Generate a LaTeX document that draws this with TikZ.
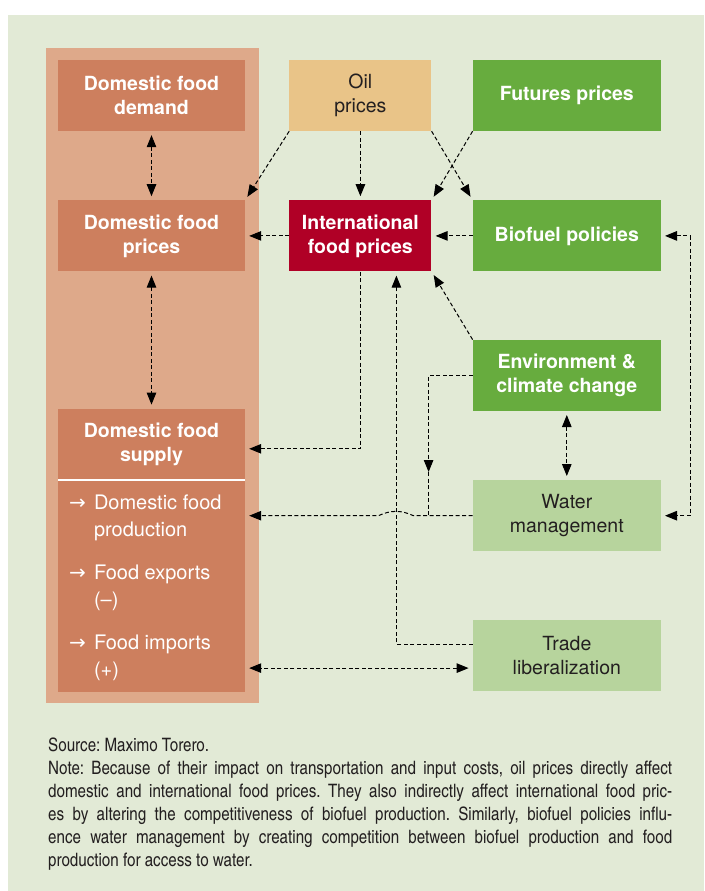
\documentclass[tikz,border=0pt]{standalone}
\usepackage{fontspec}
\setmainfont{TeX Gyre Heros}
\newfontfamily\condfont{TeX Gyre Heros Cn}
\newfontfamily\symfont{DejaVu Sans}
\usetikzlibrary{positioning,arrows.meta,backgrounds}
\frenchspacing

\definecolor{bgcol}{RGB}{226,234,214}
\definecolor{panelcol}{RGB}{222,169,138}
\definecolor{salmon}{RGB}{205,127,94}
\definecolor{oilcol}{RGB}{233,196,136}
\definecolor{grn}{RGB}{103,172,62}
\definecolor{lgrn}{RGB}{183,212,157}
\definecolor{crim}{RGB}{176,0,38}
\definecolor{ink}{RGB}{35,31,32}

\newcommand{\boxfont}{\fontsize{19.5}{24}\selectfont}
\newcommand{\itemfont}{\fontsize{20}{27}\selectfont}
\newcommand{\notefont}{\condfont\fontsize{18.5}{23}\selectfont}
\newcommand{\itarr}{\makebox[25pt][l]{{\symfont\fontsize{20}{20}\selectfont →}}}

\begin{document}
\begin{tikzpicture}[x=1pt, y=1pt, node distance=69pt and 44pt,
  basebox/.style={minimum width=187pt, minimum height=71pt, inner sep=0pt, align=center, font=\boxfont},
  darkbox/.style={basebox, fill=salmon, text=white, font=\boxfont\bfseries},
  greenbox/.style={basebox, minimum width=188pt, fill=grn, text=white, font=\boxfont\bfseries},
  lightbox/.style={basebox, minimum width=188pt, fill=lgrn, text=ink},
  oilbox/.style={basebox, minimum width=142pt, fill=oilcol, text=ink},
  redbox/.style={basebox, minimum width=142pt, fill=crim, text=white, font=\boxfont\bfseries},
  itemtext/.style={anchor=north west, inner sep=0pt, align=left, text=white, font=\itemfont},
  dline/.style={draw=black, line width=1pt, dash pattern=on 4pt off 2.5pt},
  arr/.style={-{Triangle[length=12pt,width=9.5pt]}, shorten >=4pt},
  arrs/.style={{Triangle[length=12pt,width=9.5pt]}-{Triangle[length=12pt,width=9.5pt]}, shorten >=4pt, shorten <=4pt}]
\useasboundingbox (0,0) rectangle (704,-891);

% left column
\node[darkbox] (demand) at (151.5,-95.5) {Domestic food\\demand};
\node[darkbox, below=of demand] (dprices) {Domestic food\\prices};
\node[darkbox, below=137pt of dprices] (supply) {Domestic food\\supply};
\node[darkbox, minimum height=212pt, below=0pt of supply] (suplist) {};
\node[itemtext] (prod) at ([shift={(11pt,-15pt)}]suplist.north west) {\itarr Domestic food\\\hspace*{25pt}production};
\node[itemtext] (exports) at ([shift={(11pt,-85pt)}]suplist.north west) {\itarr Food exports\\\hspace*{25pt}(--)};
\node[itemtext] (imports) at ([shift={(11pt,-155pt)}]suplist.north west) {\itarr Food imports\\\hspace*{25pt}(+)};

% middle and right
\node[oilbox, right=of demand] (oil) {Oil\\prices};
\node[greenbox, right=41pt of oil] (futures) {Futures prices};
\node[redbox, below=of oil] (intl) {International\\food prices};
\node[greenbox, below=of futures] (biofuel) {Biofuel policies};
\node[greenbox, below=68pt of biofuel] (env) {Environment \&\\climate change};
\node[lightbox, below=of env] (water) {Water\\management};
\node[lightbox, below=68pt of water] (trade) {Trade\\liberalization};

% note
\node[anchor=north west, inner sep=0pt, text width=624pt, align=justify, text=ink, font=\notefont] (note) at (48,-738) {Source: Maximo Torero.\\
Note: Because of their impact on transportation and input costs, oil prices directly affect\linebreak
domestic and international food prices. They also indirectly affect international food pric-\linebreak
es by altering the competitiveness of biofuel production. Similarly, biofuel policies influ-\linebreak
ence water management by creating competition between biofuel production and food\linebreak
production for access to water.};

\begin{scope}[on background layer]
\fill[bgcol] (8,-15) rectangle (704,-891);
\fill[panelcol] ([shift={(-12pt,12pt)}]demand.north west) rectangle ([shift={(14pt,-11pt)}]suplist.south east);
\end{scope}
\draw[white, line width=1.2pt] (supply.south west) -- (supply.south east);

\coordinate (tradeup) at ([xshift=36pt]intl.south);
\coordinate (envdrop) at ([xshift=-44pt,yshift=8pt]water.north west);
\coordinate (envjoin) at (envdrop |- water.west);
\coordinate (hopR) at ([xshift=17pt]tradeup |- water.west);
\coordinate (hopL) at ([xshift=-18pt]tradeup |- water.west);

% connectors
\draw[dline, arrs] (demand) -- (dprices);
\draw[dline, arrs] (dprices) -- (supply);
\draw[dline, arr] (oil.south west) -- (dprices.north east);
\draw[dline, arr] (oil) -- (intl);
\draw[dline, arr] (oil.south east) -- (biofuel.north west);
\draw[dline, arr] (futures.south west) -- (intl.north east);
\draw[dline, arr] (intl) -- (dprices);
\draw[dline, arr] (biofuel) -- (intl);
\draw[dline, arrs] (biofuel.east) -- ++(29pt,0) |- (water.east);
\draw[dline, arr] (intl.south) |- ([yshift=-4.5pt]supply.east);
\draw[dline, arr] ([yshift=11pt]trade.west) -| (tradeup);
\draw[dline, arr] (env.north west) -- (intl.south east);
\draw[dline, arrs] (env) -- (water);
\draw[dline, -{Triangle[length=12pt,width=9.5pt]}] (env.west) -| (envdrop);
\draw[dline] (envdrop) -- (envjoin);
\draw[dline, arr] (water.west) -- (hopR) to[out=155,in=25] (hopL) -- (suplist.east |- water.west);
\draw[dline, arrs] ([yshift=-13pt]trade.west) -- ([yshift=-13pt]trade.west -| suplist.east);
\end{tikzpicture}
\end{document}
